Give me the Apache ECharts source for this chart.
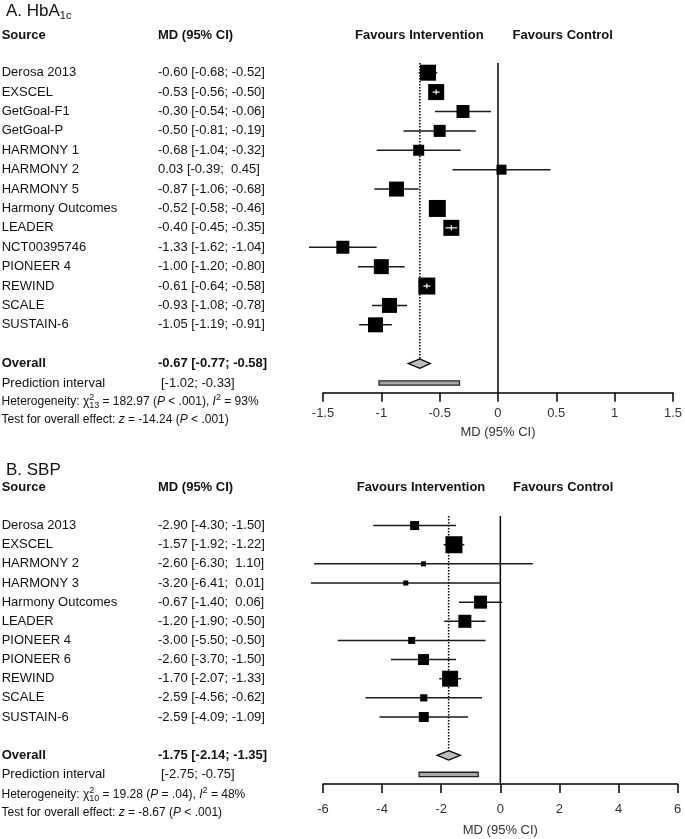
<!DOCTYPE html>
<html><head><meta charset="utf-8">
<script src="https://cdn.jsdelivr.net/npm/echarts@6/dist/echarts.min.js"></script>
<style>html,body{margin:0;padding:0;background:#fff}#c{width:685px;height:839px}</style>
</head><body><div id="c"></div><script>
const FONT = '"Liberation Sans", Arial, Helvetica, sans-serif';

// ---------- Panel A: HbA1c ----------
const hbaStudies = ['Derosa 2013','EXSCEL','GetGoal-F1','GetGoal-P','HARMONY 1','HARMONY 2','HARMONY 5','Harmony Outcomes','LEADER','NCT00395746','PIONEER 4','REWIND','SCALE','SUSTAIN-6'];
const hbaMD    = [-0.60,-0.53,-0.30,-0.50,-0.68, 0.03,-0.87,-0.52,-0.40,-1.33,-1.00,-0.61,-0.93,-1.05];
const hbaLower = [-0.68,-0.56,-0.54,-0.81,-1.04,-0.39,-1.06,-0.58,-0.45,-1.62,-1.20,-0.64,-1.08,-1.19];
const hbaUpper = [-0.52,-0.50,-0.06,-0.19,-0.32, 0.45,-0.68,-0.46,-0.35,-1.04,-0.80,-0.58,-0.78,-0.91];
const hbaWeight = [8.7, 8.7, 5.7, 4.9, 4.1, 3.4, 7.6, 9.8, 8.7, 5.7, 7.6, 9.8, 7.6, 7.6];
const hbaOverall = [-0.67, -0.77, -0.58];
const hbaPredInt = [-1.02, -0.33];
const hbaTicks = [-1.5, -1, -0.5, 0, 0.5, 1, 1.5];
const hbaHetero = ['182.97', '13', '< .001', '93%'];
const hbaZ = ['-14.24', '< .001'];

// ---------- Panel B: SBP ----------
const sbpStudies = ['Derosa 2013','EXSCEL','HARMONY 2','HARMONY 3','Harmony Outcomes','LEADER','PIONEER 4','PIONEER 6','REWIND','SCALE','SUSTAIN-6'];
const sbpMD    = [-2.90,-1.57,-2.60,-3.20,-0.67,-1.20,-3.00,-2.60,-1.70,-2.59,-2.59];
const sbpLower = [-4.30,-1.92,-6.30,-6.41,-1.40,-1.90,-5.50,-3.70,-2.07,-4.56,-4.09];
const sbpUpper = [-1.50,-1.22, 1.10, 0.01, 0.06,-0.50,-0.50,-1.50,-1.33,-0.62,-1.09];
const sbpWeight = [6.1, 21.7, 1.9, 1.9, 12.7, 12.7, 3.7, 9.1, 19.2, 3.9, 7.5];
const sbpOverall = [-1.75, -2.14, -1.35];
const sbpPredInt = [-2.75, -0.75];
const sbpTicks = [-6, -4, -2, 0, 2, 4, 6];
const sbpHetero = ['19.28', '10', '= .04', '48%'];
const sbpZ = ['-8.67', '< .001'];

// ---------- helpers ----------
function ciText(lo, hi) {
  return '[' + lo.toFixed(2) + '; ' + (hi >= 0 ? ' ' : '') + hi.toFixed(2) + ']';
}
function mdText(md, lo, hi) { return md.toFixed(2) + ' ' + ciText(lo, hi); }

const mctx = document.createElement('canvas').getContext('2d');
function measure(font, t) { mctx.font = font; return mctx.measureText(t).width; }

function txt(x, y, text, font, fill, align) {
  return { type: 'text', x: x, y: y, silent: true,
    style: { text: text, font: font, fill: fill || '#111', textAlign: align || 'left', align: align || 'left',
             textVerticalAlign: 'middle', verticalAlign: 'middle' } };
}
// sequence of segments; seg.k: 'n' normal, 'sup', 'sub'; seg.i italic; seg.under stacks under previous
function seq(x, y, segs, size, smallRatio) {
  const els = []; let cx = x; let sx = x, sw = 0;
  const ratio = smallRatio || 0.78;
  segs.forEach(sg => {
    const small = sg.k === 'sup' || sg.k === 'sub';
    const fs = small ? Math.round(size * ratio) : size;
    const font = (sg.i ? 'italic ' : '') + (sg.b ? 'bold ' : '') + fs + 'px ' + FONT;
    const w = measure(font, sg.t);
    const dy = sg.k === 'sup' ? -size * 0.36 : (sg.k === 'sub' ? size * 0.32 : 0);
    const px = sg.under ? sx : cx;
    els.push(txt(px, y + dy, sg.t, font, '#111'));
    if (sg.under) { cx = sx + Math.max(sw, w); }
    else { sx = cx; sw = w; cx += w; }
  });
  return els;
}

// ---------- series builders ----------
function refLineSeries(gi, overall, yMin, yOverall, yBottom) {
  return {
    type: 'custom', xAxisIndex: gi, yAxisIndex: gi, clip: false, z: 2, silent: true,
    data: [[overall[0], yOverall]],
    renderItem: function (params, api) {
      const z0 = api.coord([0, yMin]);
      const zb = api.coord([0, yBottom]);
      const d0 = api.coord([api.value(0), yMin]);
      const d1 = api.coord([api.value(0), api.value(1)]);
      return { type: 'group', children: [
        { type: 'line', shape: { x1: z0[0], y1: z0[1], x2: zb[0], y2: zb[1] },
          style: { stroke: '#000', lineWidth: 1.5 } },
        { type: 'line', shape: { x1: d0[0], y1: d0[1], x2: d1[0], y2: d1[1] - 4 },
          style: { stroke: '#000', lineWidth: 1.5, lineDash: [1.5, 1.5] } }
      ]};
    }
  };
}

function studySeries(gi, md, lo, hi, wt, k) {
  return {
    type: 'custom', xAxisIndex: gi, yAxisIndex: gi, clip: false, z: 5, silent: true,
    data: md.map((m, i) => [m, i, lo[i], hi[i], wt[i]]),
    encode: { x: 0, y: 1 },
    renderItem: function (params, api) {
      const r = api.value(1);
      const pm = api.coord([api.value(0), r]);
      const pl = api.coord([api.value(2), r]);
      const ph = api.coord([api.value(3), r]);
      const s = k * Math.sqrt(api.value(4));
      const inside = (ph[0] - pl[0]) < 0.8 * s;
      const ch = [];
      ch.push({ type: 'line', shape: { x1: pl[0], y1: pm[1], x2: ph[0], y2: pm[1] },
                style: { stroke: '#1a1a1a', lineWidth: 1.5 } });
      ch.push({ type: 'rect', shape: { x: pm[0] - s / 2, y: pm[1] - s / 2, width: s, height: s },
                style: { fill: '#000' } });
      if (inside) {
        ch.push({ type: 'line', shape: { x1: pl[0], y1: pm[1], x2: ph[0], y2: pm[1] },
                  style: { stroke: '#fff', lineWidth: 1.2 } });
        ch.push({ type: 'line', shape: { x1: pm[0], y1: pm[1] - 2.5, x2: pm[0], y2: pm[1] + 2.5 },
                  style: { stroke: '#fff', lineWidth: 1.2 } });
      }
      return { type: 'group', children: ch };
    }
  };
}

function summarySeries(gi, overall, pred, rowO, rowP) {
  return {
    type: 'custom', xAxisIndex: gi, yAxisIndex: gi, clip: false, z: 6, silent: true,
    data: [[overall[0], rowO, overall[1], overall[2], pred[0], pred[1], rowP]],
    renderItem: function (params, api) {
      const r = api.value(1), rp = api.value(6);
      const pm = api.coord([api.value(0), r]);
      const pl = api.coord([api.value(2), r]);
      const ph = api.coord([api.value(3), r]);
      const ql = api.coord([api.value(4), rp]);
      const qh = api.coord([api.value(5), rp]);
      const h = 4.7;
      return { type: 'group', children: [
        { type: 'polygon', shape: { points: [[pl[0], pm[1]], [pm[0], pm[1] - h], [ph[0], pm[1]], [pm[0], pm[1] + h]] },
          style: { fill: '#bdbdbd', stroke: '#000', lineWidth: 1.3 } },
        { type: 'rect', shape: { x: ql[0], y: ql[1] - 2.2, width: qh[0] - ql[0], height: 4.4 },
          style: { fill: '#a8a8a8', stroke: '#222', lineWidth: 1.3 } }
      ]};
    }
  };
}

function textSeries(gi, names, md, lo, hi, overall, pred, rowO, rowP) {
  const rows = names.map((n, i) => [0, i]);
  rows.push([0, rowO]); rows.push([0, rowP]);
  const nN = names.length;
  return {
    type: 'custom', xAxisIndex: gi, yAxisIndex: gi, clip: false, z: 4, silent: true,
    data: rows,
    renderItem: function (params, api) {
      const i = params.dataIndex;
      const y = api.coord([0, api.value(1)])[1];
      const nf = '13px ' + FONT, bf = 'bold 13px ' + FONT;
      let a, b, f = nf, bx = 158;
      if (i < nN) { a = names[i]; b = mdText(md[i], lo[i], hi[i]); }
      else if (i === nN) { a = 'Overall'; b = mdText(overall[0], overall[1], overall[2]); f = bf; }
      else { a = 'Prediction interval'; b = ciText(pred[0], pred[1]); bx = 161; }
      return { type: 'group', children: [ txt(1.7, y, a, f, '#111'), txt(bx, y, b, f, '#111') ] };
    }
  };
}

function xAxisCfg(gi, ticks, labelMargin, nameGap) {
  return {
    gridIndex: gi, type: 'value', min: ticks[0], max: ticks[ticks.length - 1],
    interval: ticks[1] - ticks[0],
    name: 'MD (95% CI)', nameLocation: 'middle', nameGap: nameGap,
    nameTextStyle: { fontSize: 13, color: '#333', fontFamily: FONT },
    axisLine: { onZero: false, lineStyle: { color: '#000', width: 1.5 } },
    axisTick: { length: 9, lineStyle: { color: '#000', width: 1.5 } },
    axisLabel: { margin: labelMargin, fontSize: 13, color: '#333', fontFamily: FONT },
    splitLine: { show: false }
  };
}

// ---------- graphics (titles, headers, footnotes) ----------
const hb = 'bold 13px ' + FONT;
const graphics = [];
graphics.push(...seq(6, 11, [{ t: 'A. HbA', k: 'n' }, { t: '1c', k: 'sub' }], 17, 0.62));
graphics.push(txt(1.7, 35, 'Source', hb), txt(158, 35, 'MD (95% CI)', hb),
              txt(355, 35, 'Favours Intervention', hb), txt(512.5, 35, 'Favours Control', hb));
function heteroSegs(h) {
  return [{ t: 'Heterogeneity: χ' }, { t: '2', k: 'sup' }, { t: h[1], k: 'sub', under: true },
          { t: ' = ' + h[0] + ' (' }, { t: 'P', i: true }, { t: ' ' + h[2] + '), ' },
          { t: 'I', i: true }, { t: '2', k: 'sup' }, { t: ' = ' + h[3] }];
}
function zSegs(z) {
  return [{ t: 'Test for overall effect: ' }, { t: 'z', i: true }, { t: ' = ' + z[0] + ' (' },
          { t: 'P', i: true }, { t: ' ' + z[1] + ')' }];
}
graphics.push(...seq(1.5, 401.5, heteroSegs(hbaHetero), 12));
graphics.push(...seq(1.5, 420, zSegs(hbaZ), 12));
graphics.push(txt(6, 470, 'B. SBP', '17px ' + FONT, '#111'));
graphics.push(txt(1.7, 487.7, 'Source', hb), txt(158, 487.7, 'MD (95% CI)', hb),
              txt(356.7, 487.7, 'Favours Intervention', hb), txt(513, 487.7, 'Favours Control', hb));
graphics.push(...seq(1.5, 794.5, heteroSegs(sbpHetero), 12));
graphics.push(...seq(1.5, 813, zSegs(sbpZ), 12));

const nA = hbaStudies.length, nB = sbpStudies.length;
const option = {
  animation: false,
  backgroundColor: '#fff',
  grid: [
    { left: 323, right: 9.3, top: 63, height: 329.7 },
    { left: 323, right: 7.3, top: 516, height: 268 }
  ],
  xAxis: [ xAxisCfg(0, hbaTicks, 14, 33), xAxisCfg(1, sbpTicks, 19, 40) ],
  yAxis: [
    { gridIndex: 0, type: 'value', min: -0.5, max: 16.5, inverse: true, show: false },
    { gridIndex: 1, type: 'value', min: -0.5, max: 13.5, inverse: true, show: false }
  ],
  graphic: { elements: graphics },
  series: [
    refLineSeries(0, hbaOverall, -0.5, nA + 1, 16.5),
    studySeries(0, hbaMD, hbaLower, hbaUpper, hbaWeight, 5.43),
    summarySeries(0, hbaOverall, hbaPredInt, nA + 1, nA + 2),
    textSeries(0, hbaStudies, hbaMD, hbaLower, hbaUpper, hbaOverall, hbaPredInt, nA + 1, nA + 2),
    refLineSeries(1, sbpOverall, -0.5, nB + 1, 13.5),
    studySeries(1, sbpMD, sbpLower, sbpUpper, sbpWeight, 3.65),
    summarySeries(1, sbpOverall, sbpPredInt, nB + 1, nB + 2),
    textSeries(1, sbpStudies, sbpMD, sbpLower, sbpUpper, sbpOverall, sbpPredInt, nB + 1, nB + 2)
  ]
};
const chart = echarts.init(document.getElementById('c'));
chart.setOption(option);
</script></body></html>
